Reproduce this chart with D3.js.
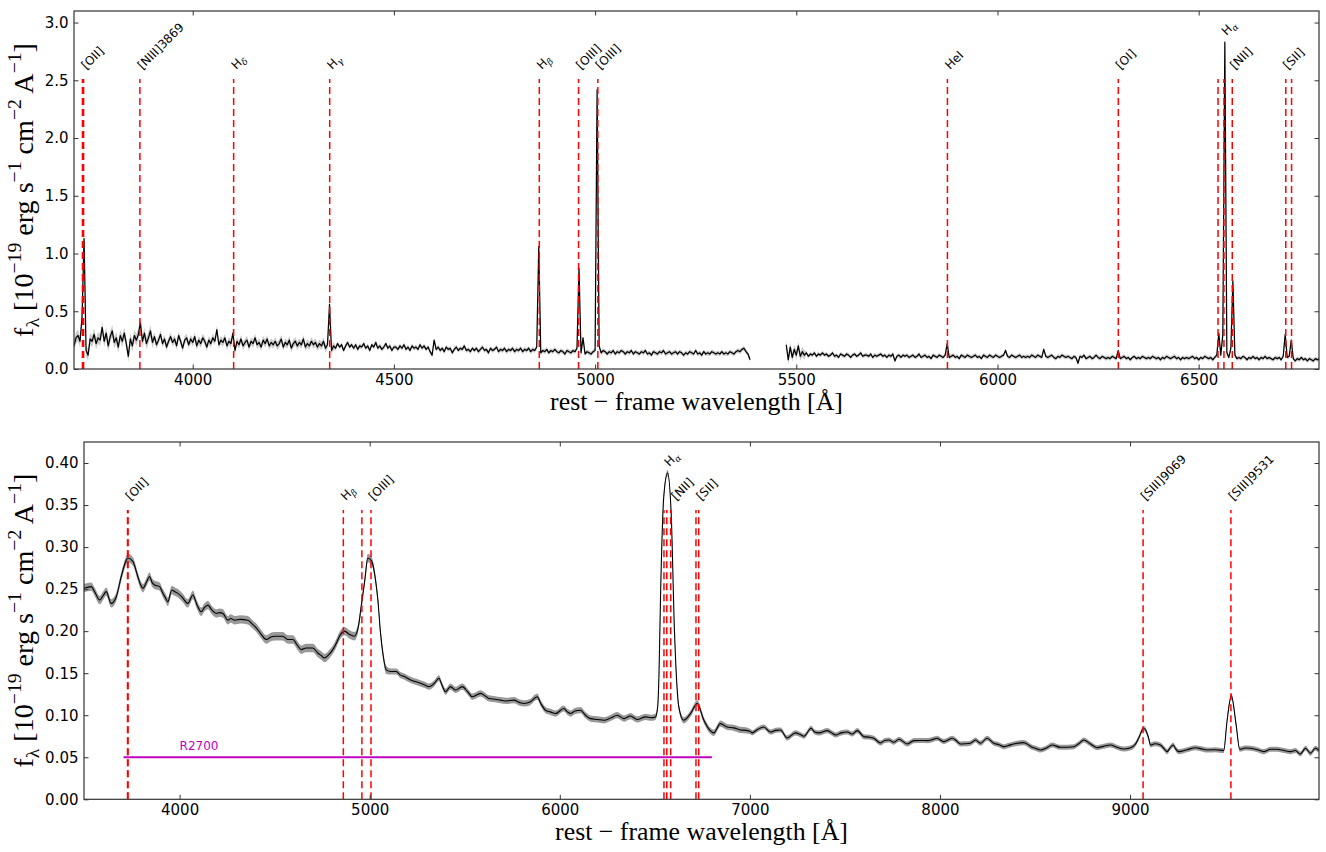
<!DOCTYPE html>
<html>
<head>
<meta charset="utf-8">
<script src="https://cdn.jsdelivr.net/npm/d3@7"></script>
<style>
  body { margin: 0; background: #fff; }
  svg { display: block; }
</style>
</head>
<body>
<svg id="fig" width="1326" height="852"></svg>
<script>
// ---------------------------------------------------------------
// Spectral data (flux in units of 1e-19 erg s^-1 cm^-2 A^-1)
// ---------------------------------------------------------------

// High-resolution spectrum, blue arm: rows of [start wavelength, fluxes every 5 A]
const topBlueRows = [
  [3705, [.20,.27,.29,.24,.45,1.13,.16,.12,.26,.24,.30,.22,.27,.25,.36,.24,.31,.20,.28,.33]],
  [3805, [.23,.27,.19,.29,.24,.31,.22,.11,.26,.20,.29,.25,.30,.40,.24,.31,.22,.27,.33,.23]],
  [3905, [.28,.21,.25,.30,.22,.26,.19,.24,.28,.23,.26,.20,.29,.24,.18,.25,.27,.21,.26,.23]],
  [4005, [.28,.20,.25,.22,.27,.24,.19,.25,.22,.27,.24,.34,.21,.25,.23,.27,.20,.24,.22,.31]],
  [4105, [.16,.24,.21,.26,.20,.23,.25,.19,.24,.22,.27,.21,.23,.19,.25,.22,.26,.20,.23,.21]],
  [4205, [.24,.20,.22,.26,.19,.23,.21,.25,.18,.22,.24,.20,.23,.21,.26,.19,.22,.20,.24,.21]],
  [4305, [.23,.19,.22,.20,.24,.18,.21,.56,.16,.20,.18,.22,.19,.21,.16,.20,.23,.19,.21,.18]],
  [4405, [.21,.17,.20,.19,.22,.18,.20,.16,.21,.19,.23,.18,.20,.17,.19,.22,.18,.20,.16,.19]],
  [4505, [.19,.17,.20,.18,.21,.17,.19,.16,.20,.18,.19,.17,.21,.18,.20,.17,.19,.15,.12,.25]],
  [4605, [.17,.19,.16,.18,.15,.19,.17,.18,.14,.17,.19,.16,.18,.17,.20,.16,.17,.15,.18,.16]],
  [4705, [.18,.15,.17,.19,.16,.17,.14,.18,.16,.17,.19,.15,.17,.16,.18,.15,.17,.16,.18,.15]],
  [4805, [.17,.16,.18,.15,.17,.16,.18,.15,.17,.16,.19,1.06,.14,.16,.15,.17,.14,.16,.15,.17]],
  [4905, [.15,.14,.16,.15,.13,.16,.15,.14,.16,.15,.18,.87,.14,.27,.13,.15,.14,.13,.15,.16]],
  [5005, [2.42,.20,.14,.16,.15,.13,.15,.14,.16,.13,.15,.14,.16,.15,.13,.15,.14,.16,.13,.15]],
  [5105, [.14,.13,.15,.14,.16,.13,.14,.12,.15,.14,.13,.15,.14,.16,.13,.14,.15,.13,.14,.15]],
  [5205, [.13,.15,.14,.12,.14,.13,.15,.14,.13,.16,.13,.14,.12,.15,.13,.14,.13,.15,.14,.13]],
  [5305, [.14,.13,.15,.13,.14,.13,.15,.14,.13,.15,.16,.15,.17,.18,.15,.13,.08]]
];

// High-resolution spectrum, red arm (after the detector gap)
const topRedRows = [
  [5475, [.21,.08,.19,.10,.17,.12,.20,.11,.15,.12,.14,.11,.13,.12,.14,.11,.13,.12,.14,.12]],
  [5575, [.13,.11,.12,.14,.11,.12,.10,.13,.12,.11,.13,.12,.10,.12,.13,.11,.12,.14,.11,.12]],
  [5675, [.12,.11,.13,.10,.12,.11,.12,.13,.11,.12,.10,.12,.11,.13,.07,.11,.12,.10,.12,.11]],
  [5775, [.12,.10,.11,.12,.10,.11,.13,.10,.11,.12,.10,.11,.09,.12,.11,.10,.12,.11,.10,.12]],
  [5875, [.22,.10,.11,.12,.10,.11,.09,.12,.11,.10,.12,.11,.10,.11,.12,.10,.11,.09,.12,.11]],
  [5975, [.10,.12,.11,.10,.12,.11,.10,.11,.12,.16,.11,.10,.12,.11,.10,.11,.12,.10,.11,.10]],
  [6075, [.11,.10,.12,.11,.10,.12,.11,.10,.17,.11,.10,.11,.12,.10,.09,.11,.10,.12,.11,.10]],
  [6175, [.11,.10,.09,.11,.10,.05,.11,.10,.12,.09,.10,.11,.09,.10,.12,.10,.09,.11,.10,.09]],
  [6275, [.10,.09,.11,.10,.09,.16,.09,.10,.11,.09,.10,.08,.10,.11,.09,.10,.09,.11,.10,.09]],
  [6375, [.10,.09,.11,.10,.09,.10,.08,.10,.09,.11,.10,.09,.10,.11,.09,.10,.08,.10,.09,.10]],
  [6475, [.09,.10,.11,.09,.10,.08,.10,.09,.11,.10,.09,.10,.08,.10,.12,.31,.12,.30,2.83,.14]],
  [6575, [.10,.18,.76,.12,.09,.10,.09,.11,.10,.08,.10,.09,.11,.09,.10,.08,.10,.09,.11,.09]],
  [6675, [.10,.09,.08,.10,.09,.10,.08,.11,.30,.10,.11,.25,.09,.07,.09,.08,.10,.08,.09,.07]],
  [6775, [.09,.08,.07,.09,.08,.09]]
];

// 1-sigma uncertainty of the high-resolution spectrum per wavelength range [lo, hi, sigma]
const topErrBands = [
  [3705, 3900, 0.05], [3900, 4350, 0.035], [4350, 5390, 0.02],
  [5470, 5520, 0.04], [5520, 6800, 0.018]
];

// Low-resolution spectrum: [wavelength, flux]
const bottomSpectrum = [
  [3497,.251],[3535,.253],[3555,.246],[3579,.237],[3600,.243],[3614,.247],[3640,.233],[3667,.241],
  [3693,.265],[3715,.282],[3728,.287],[3754,.283],[3780,.265],[3795,.255],[3807,.251],[3825,.258],
  [3842,.265],[3855,.258],[3868,.255],[3895,.253],[3912,.245],[3925,.240],[3938,.235],[3959,.249],
  [3975,.247],[3991,.245],[4015,.240],[4043,.233],[4070,.243],[4090,.232],[4114,.223],[4130,.228],
  [4149,.231],[4170,.225],[4193,.221],[4210,.222],[4228,.221],[4254,.213],[4270,.215],[4289,.213],
  [4320,.214],[4359,.213],[4380,.209],[4403,.204],[4430,.196],[4456,.190],[4480,.193],[4499,.194],
  [4543,.194],[4570,.190],[4596,.190],[4620,.183],[4640,.178],[4665,.180],[4701,.180],[4727,.174],
  [4745,.171],[4762,.168],[4785,.172],[4806,.178],[4825,.186],[4841,.194],[4868,.200],[4894,.196],
  [4920,.194],[4940,.205],[4955,.229],[4975,.262],[4990,.287],[5011,.283],[5030,.262],[5043,.237],
  [5056,.200],[5069,.174],[5087,.154],[5110,.152],[5140,.152],[5160,.148],[5183,.146],[5215,.142],
  [5240,.140],[5267,.138],[5290,.136],[5311,.134],[5340,.138],[5364,.144],[5380,.136],[5399,.128],
  [5425,.134],[5452,.130],[5487,.134],[5515,.128],[5540,.122],[5583,.126],[5627,.120],[5660,.119],
  [5688,.118],[5720,.117],[5758,.118],[5790,.115],[5811,.114],[5846,.116],[5881,.122],[5900,.114],
  [5925,.106],[5950,.104],[5978,.102],[6021,.108],[6040,.104],[6056,.102],[6080,.105],[6109,.106],
  [6135,.100],[6161,.096],[6200,.095],[6232,.094],[6270,.097],[6302,.100],[6337,.096],[6372,.099],
  [6407,.095],[6451,.098],[6480,.097],[6503,.098],[6515,.110],[6522,.150],[6530,.241],[6547,.360],
  [6567,.388],[6586,.340],[6603,.202],[6615,.140],[6626,.110],[6652,.094],[6688,.102],[6723,.114],
  [6758,.094],[6790,.082],[6810,.079],[6845,.090],[6880,.086],[6915,.085],[6951,.0825],[6980,.082],
  [7003,.0805],[7012,.079],[7040,.083],[7073,.086],[7109,.080],[7135,.082],[7161,.0825],[7196,.073],
  [7240,.079],[7265,.077],[7284,.075],[7323,.0845],[7340,.080],[7363,.079],[7407,.0817],[7430,.079],
  [7451,.0765],[7480,.079],[7512,.080],[7538,.0777],[7565,.0817],[7600,.0745],[7625,.074],[7652,.0726],
  [7687,.067],[7710,.070],[7731,.0706],[7757,.0678],[7784,.0714],[7828,.0658],[7863,.0698],[7900,.070],
  [7933,.0698],[7960,.071],[7985,.0726],[8020,.0686],[8064,.0726],[8085,.070],[8108,.0658],[8130,.066],
  [8160,.0667],[8187,.0706],[8213,.0667],[8248,.0726],[8283,.0667],[8310,.065],[8336,.0626],[8360,.064],
  [8388,.0658],[8441,.0674],[8485,.0619],[8510,.060],[8529,.0587],[8560,.061],[8590,.0646],[8634,.0619],
  [8670,.062],[8704,.0626],[8730,.066],[8757,.0706],[8790,.066],[8827,.0614],[8860,.063],[8897,.0646],
  [8930,.062],[8967,.0599],[9000,.061],[9028,.0655],[9045,.0726],[9072,.0845],[9098,.0726],[9107,.0646],
  [9130,.066],[9160,.0646],[9180,.060],[9195,.0567],[9210,.061],[9227,.0646],[9240,.060],[9256,.0567],
  [9300,.059],[9344,.0614],[9375,.060],[9406,.0587],[9450,.059],[9493,.0579],[9509,.0905],[9533,.123],
  [9557,.0905],[9577,.0595],[9605,.061],[9633,.0607],[9670,.059],[9703,.0567],[9740,.0595],[9774,.0595],
  [9810,.058],[9844,.0567],[9870,.058],[9896,.0539],[9923,.0607],[9949,.0548],[9975,.0607],[9994,.058]
];

// 1-sigma uncertainty of the low-resolution spectrum per wavelength range
const bottomErrBands = [[3490, 5100, 0.005], [5100, 7000, 0.0037], [7000, 10000, 0.003]];

// Emission lines marked in each panel (rest-frame wavelengths, A)
const topLineWaves = [3726.03, 3728.82, 3868.75, 4101.74, 4340.47, 4861.33, 4958.91, 5006.84,
                      5875.62, 6300.30, 6548.05, 6562.80, 6583.45, 6716.44, 6730.82];
const bottomLineWaves = [3726.03, 3728.82, 4861.33, 4958.91, 5006.84, 6548.05, 6562.80,
                         6583.45, 6716.44, 6730.82, 9068.6, 9530.6];

// Line labels ("_" marks a subscript) and where they are anchored
const topLabelNames = ["[OII]", "[NIII]3869", "H_δ", "H_γ", "H_β", "[OIII]", "[OIII]",
                       "HeI", "[OI]", "H_α", "[NII]", "[SII]"];
const topLabelWaves = [3729, 3869, 4102, 4340, 4861, 4959, 5007, 5876, 6300, 6563, 6584, 6716];
const bottomLabelNames = ["[OII]", "H_β", "[OIII]", "H_α", "[NII]", "[SII]", "[SIII]9069", "[SIII]9531"];
const bottomLabelWaves = [3729, 4861, 5007, 6563, 6600, 6731, 9069, 9531];

// Rest-frame range covered by the high-resolution grating
const r2700Range = [3705, 6800];
const r2700Level = 0.05;
const r2700Label = { text: "R2700", wave: 4000, flux: 0.059 };

// Axis ticks
const topXTicks = [4000, 4500, 5000, 5500, 6000, 6500];
const topYTicks = [0, 0.5, 1.0, 1.5, 2.0, 2.5, 3.0];
const bottomXTicks = [4000, 5000, 6000, 7000, 8000, 9000];
const bottomYTicks = [0, 0.05, 0.10, 0.15, 0.20, 0.25, 0.30, 0.35, 0.40];

// ---------------------------------------------------------------
// Build point lists
// ---------------------------------------------------------------
function errFor(w, bands) {
  for (const [lo, hi, s] of bands) if (w >= lo && w <= hi) return s;
  return 0;
}
function rowsToPoints(rows) {
  const pts = [];
  rows.forEach(([start, vals]) => vals.forEach((f, i) => pts.push({ w: start + 5 * i, f })));
  return pts;
}
const topPoints = [...rowsToPoints(topBlueRows), { w: 5430, f: null }, ...rowsToPoints(topRedRows)];
topPoints.forEach(p => p.e = errFor(p.w, topErrBands));
const bottomPoints = bottomSpectrum.map(([w, f]) => ({ w, f, e: errFor(w, bottomErrBands) }));

// ---------------------------------------------------------------
// Drawing
// ---------------------------------------------------------------
const svg = d3.select("#fig");
svg.append("rect").attr("width", 1326).attr("height", 852).attr("fill", "#fff");

const TICK_FONT = "DejaVu Sans";
const SERIF = "Liberation Serif";

const panels = [
  {
    id: "top", box: { l: 74, r: 1319, t: 11, b: 369 },
    xDomain: [3705, 6799], yDomain: [0, 3.1],
    xTicks: topXTicks, yTicks: topYTicks, yFmt: d3.format(".1f"),
    points: topPoints, curve: d3.curveLinear, bandFill: "#c4c4c4", bandOpacity: 0.9,
    lineWidth: 1.25,
    lineWaves: topLineWaves, labelNames: topLabelNames, labelWaves: topLabelWaves,
    xLabelY: 410
  },
  {
    id: "bottom", box: { l: 84, r: 1319, t: 442, b: 799.3 },
    xDomain: [3497, 9994], yDomain: [0, 0.425],
    xTicks: bottomXTicks, yTicks: bottomYTicks, yFmt: d3.format(".2f"),
    points: bottomPoints, curve: d3.curveMonotoneX, bandFill: "#999999", bandOpacity: 1,
    lineWidth: 1.1,
    lineWaves: bottomLineWaves, labelNames: bottomLabelNames, labelWaves: bottomLabelWaves,
    xLabelY: 840, r2700: true
  }
];

function addLabelText(g, x, y, name) {
  const t = g.append("text")
    .attr("transform", `translate(${x},${y}) rotate(-45)`)
    .attr("font-family", TICK_FONT).attr("font-size", 12).attr("fill", "#000");
  const [main, sub] = name.split("_");
  t.append("tspan").text(main);
  if (sub) {
    t.append("tspan").attr("dy", 3).attr("font-size", 9)
      .attr("font-family", "DejaVu Serif").attr("font-style", "italic").text(sub);
  }
}

// Fit a text element to a target length by adjusting its font size
function fitText(text, target) {
  const fs = parseFloat(text.attr("font-size"));
  const len = text.node().getComputedTextLength();
  text.attr("font-size", fs * target / len);
}

function addYLabel(g, x, cy, target) {
  const t = g.append("text")
    .attr("transform", `translate(${x},${cy}) rotate(-90)`)
    .attr("text-anchor", "middle")
    .attr("font-family", SERIF).attr("font-size", 22).attr("fill", "#000");
  const parts = [
    ["f", 0], ["λ", -1], [" [10", 0], ["−19", 1], [" erg s", 0], ["−1", 1],
    [" cm", 0], ["−2", 1], [" A", 0], ["−1", 1], ["]", 0]
  ];
  let level = 0;
  parts.forEach(([s, lv]) => {
    const sp = t.append("tspan").text(s);
    if (lv !== 0) sp.attr("font-size", "70%");
    // vertical shift relative to the baseline, in units of the main font size
    const shift = (lv === 1 ? -0.42 : lv === -1 ? 0.22 : 0) - (level === 1 ? -0.42 : level === -1 ? 0.22 : 0);
    if (shift !== 0) sp.attr("dy", (lv !== 0 ? shift / 0.7 : shift) + "em");
    level = lv;
  });
  fitText(t, target);
}

function addXLabel(g, cx, y, target) {
  const t = g.append("text")
    .attr("x", cx).attr("y", y).attr("text-anchor", "middle")
    .attr("font-family", SERIF).attr("font-size", 22).attr("fill", "#000")
    .text("rest − frame wavelength [Å]");
  fitText(t, target);
}

panels.forEach(P => {
  const { l, r, t, b } = P.box;
  const x = d3.scaleLinear().domain(P.xDomain).range([l, r]);
  const y = d3.scaleLinear().domain(P.yDomain).range([b, t]);
  const g = svg.append("g").attr("class", P.id);

  const clipId = "clip-" + P.id;
  svg.append("defs").append("clipPath").attr("id", clipId)
    .append("rect").attr("x", l).attr("y", t).attr("width", r - l).attr("height", b - t);
  const plot = g.append("g").attr("clip-path", `url(#${clipId})`);

  // uncertainty band
  const area = d3.area()
    .defined(d => d.f != null)
    .x(d => x(d.w)).y0(d => y(d.f - d.e)).y1(d => y(d.f + d.e))
    .curve(P.curve);
  plot.append("path").datum(P.points).attr("d", area)
    .attr("fill", P.bandFill).attr("fill-opacity", P.bandOpacity).attr("stroke", "none");

  // spectrum
  const line = d3.line()
    .defined(d => d.f != null)
    .x(d => x(d.w)).y(d => y(d.f))
    .curve(P.curve);
  plot.append("path").datum(P.points).attr("d", line)
    .attr("fill", "none").attr("stroke", "#000").attr("stroke-width", P.lineWidth)
    .attr("stroke-linejoin", "round");

  // R2700 coverage
  if (P.r2700) {
    plot.append("line")
      .attr("x1", x(r2700Range[0])).attr("x2", x(r2700Range[1]))
      .attr("y1", y(r2700Level)).attr("y2", y(r2700Level))
      .attr("stroke", "#bf00bf").attr("stroke-width", 2);
    g.append("text").attr("x", x(r2700Label.wave)).attr("y", y(r2700Label.flux))
      .attr("font-family", TICK_FONT).attr("font-size", 12).attr("fill", "#bf00bf")
      .text(r2700Label.text);
  }

  // emission line markers: from the bottom up to 81% of the axis height
  const yTop = P.yDomain[0] + 0.81 * (P.yDomain[1] - P.yDomain[0]);
  plot.selectAll("line.em").data(P.lineWaves).join("line").attr("class", "em")
    .attr("x1", d => x(d)).attr("x2", d => x(d))
    .attr("y1", y(P.yDomain[0])).attr("y2", y(yTop))
    .attr("stroke", "#ff0000").attr("stroke-width", 1.5)
    .attr("stroke-dasharray", "7,4");

  // line labels (Halpha sits higher than the others)
  P.labelNames.forEach((name, i) => {
    const frac = name === "H_α" ? 0.93 : 0.835;
    const fy = P.yDomain[0] + frac * (P.yDomain[1] - P.yDomain[0]);
    addLabelText(g, x(P.labelWaves[i]) + 2.5, y(fy), name);
  });

  // axes: ticks point inward on all four sides
  const TL = 4.5;
  const styleAxis = sel => {
    sel.select(".domain").remove();
    sel.selectAll(".tick line").attr("stroke", "#333").attr("stroke-width", 1);
    sel.selectAll(".tick text").attr("font-family", TICK_FONT).attr("font-size", 15).attr("fill", "#000");
  };
  g.append("g").attr("transform", `translate(0,${b})`)
    .call(d3.axisBottom(x).tickValues(P.xTicks).tickFormat(d3.format("d")).tickSizeInner(-TL).tickSizeOuter(0).tickPadding(5.5))
    .call(styleAxis);
  g.append("g").attr("transform", `translate(0,${t})`)
    .call(d3.axisTop(x).tickValues(P.xTicks).tickFormat("").tickSizeInner(-TL).tickSizeOuter(0))
    .call(styleAxis);
  g.append("g").attr("transform", `translate(${l},0)`)
    .call(d3.axisLeft(y).tickValues(P.yTicks).tickFormat(P.yFmt).tickSizeInner(-TL).tickSizeOuter(0).tickPadding(5.5))
    .call(styleAxis);
  g.append("g").attr("transform", `translate(${r},0)`)
    .call(d3.axisRight(y).tickValues(P.yTicks).tickFormat("").tickSizeInner(-TL).tickSizeOuter(0))
    .call(styleAxis);

  // frame
  g.append("rect").attr("x", l).attr("y", t).attr("width", r - l).attr("height", b - t)
    .attr("fill", "none").attr("stroke", "#333").attr("stroke-width", 1.2);

  // axis titles
  addYLabel(g, 33, (t + b) / 2, 294);
  addXLabel(g, (l + r) / 2, P.xLabelY, 293);
});
</script>
</body>
</html>
